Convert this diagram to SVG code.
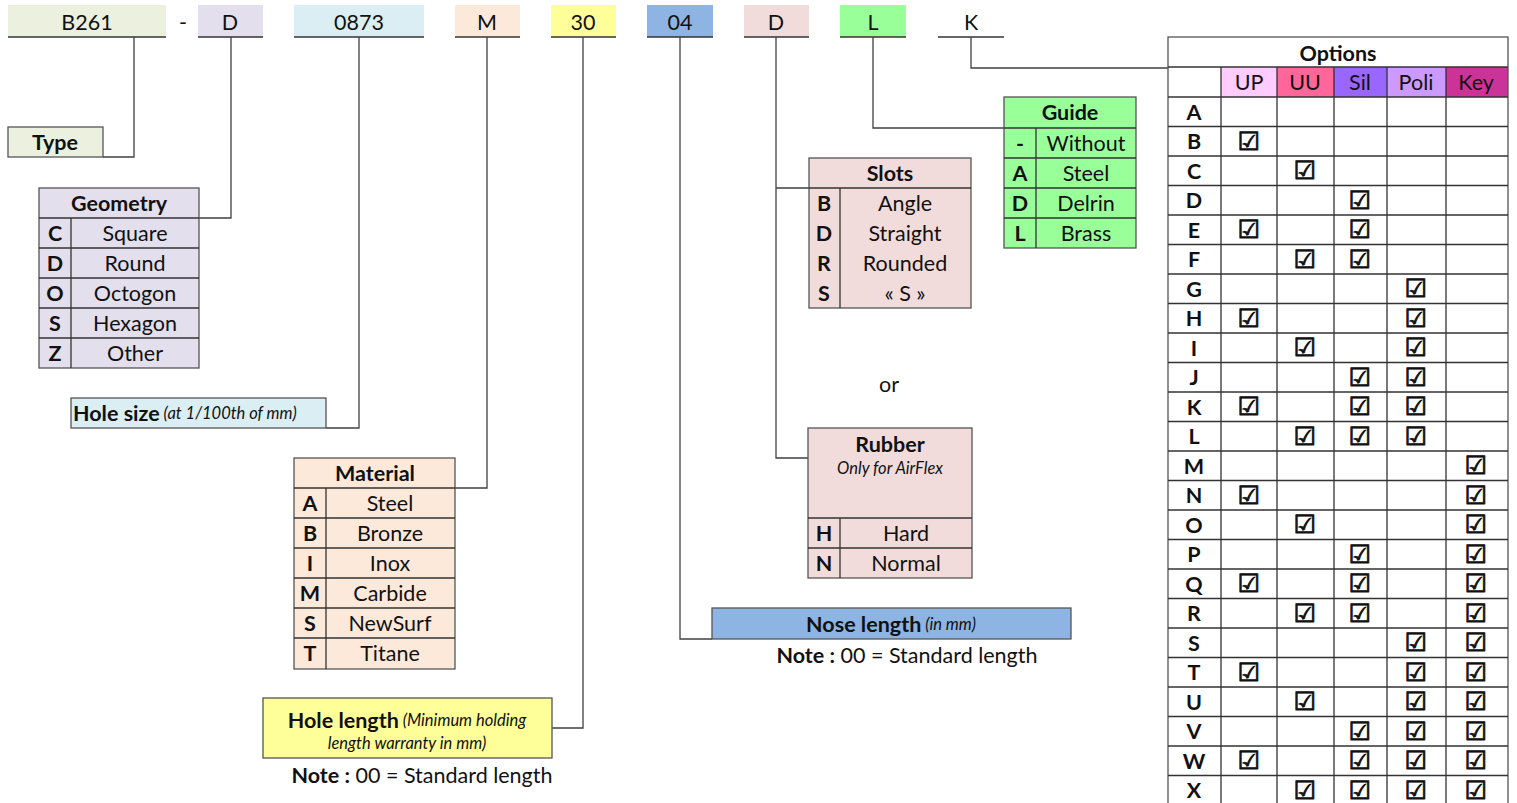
<svg xmlns="http://www.w3.org/2000/svg" width="1517" height="803" viewBox="0 0 1517 803">
<style>
text{font-family:Lato,"Liberation Sans",sans-serif;font-size:21.5px;fill:#111;text-anchor:middle;dominant-baseline:central}
.b{font-weight:bold}
.i{font-style:italic;font-size:16.5px}
.l{text-anchor:start}
.cb{font-family:"DejaVu Sans",sans-serif;font-size:25px;stroke:#111;stroke-width:0.9}
.ln{stroke:#333;stroke-width:1.3;fill:none}
.bx{stroke:#555;stroke-width:1.3}
.con path{stroke:#404040;stroke-width:1.3;fill:none}
</style>
<rect width="1517" height="803" fill="#fff"/>

<g id="hdr-b261"><rect x="8" y="5" width="158" height="32" fill="#EBF1DE"/><line class="ln" x1="8" y1="37" x2="166" y2="37"/><text x="87" y="22">B261</text></g>
<g id="hdr-dash"><text x="183" y="22">-</text></g>
<g id="hdr-d1"><rect x="198" y="5" width="65" height="32" fill="#E4DFEC"/><line class="ln" x1="198" y1="37" x2="263" y2="37"/><text x="230" y="22">D</text></g>
<g id="hdr-0873"><rect x="294" y="5" width="130" height="32" fill="#DAEEF3"/><line class="ln" x1="294" y1="37" x2="424" y2="37"/><text x="359" y="22">0873</text></g>
<g id="hdr-m"><rect x="455" y="5" width="65" height="32" fill="#FDE9D9"/><line class="ln" x1="455" y1="37" x2="520" y2="37"/><text x="487" y="22">M</text></g>
<g id="hdr-30"><rect x="551" y="5" width="65" height="32" fill="#FFFF99"/><line class="ln" x1="551" y1="37" x2="616" y2="37"/><text x="583" y="22">30</text></g>
<g id="hdr-04"><rect x="647" y="5" width="66" height="32" fill="#8DB4E2"/><line class="ln" x1="647" y1="37" x2="713" y2="37"/><text x="680" y="22">04</text></g>
<g id="hdr-d2"><rect x="744" y="5" width="65" height="32" fill="#F2DCDB"/><line class="ln" x1="744" y1="37" x2="809" y2="37"/><text x="776" y="22">D</text></g>
<g id="hdr-l"><rect x="840" y="5" width="66" height="32" fill="#99FF99"/><line class="ln" x1="840" y1="37" x2="906" y2="37"/><text x="873" y="22">L</text></g>
<g id="hdr-k"><line class="ln" x1="938" y1="37" x2="1004" y2="37"/><text x="971" y="22">K</text></g>

<g class="con" id="connectors">
<path d="M134,37 V157 H103"/>
<path d="M231,37 V218 H199"/>
<path d="M359,37 V428 H326"/>
<path d="M487,37 V488 H455"/>
<path d="M583,37 V728 H552"/>
<path d="M680,37 V639 H712"/>
<path d="M776,37 V458 H808 M776,188 H809"/>
<path d="M873,37 V128 H1004"/>
<path d="M971,37 V68 H1168"/>
</g>

<g id="type"><rect class="bx" x="8" y="127" width="95" height="30" fill="#EBF1DE"/><text class="b" x="55" y="142">Type</text></g>

<g id="geometry">
<rect class="bx" x="39" y="188" width="160" height="180" fill="#E4DFEC"/>
<path class="ln" d="M39,218H199M39,248H199M39,278H199M39,308H199M39,338H199M71,218V368"/>
<text class="b" x="119" y="203">Geometry</text>
<text class="b" x="55" y="233">C</text><text x="135" y="233">Square</text>
<text class="b" x="55" y="263">D</text><text x="135" y="263">Round</text>
<text class="b" x="55" y="293">O</text><text x="135" y="293">Octogon</text>
<text class="b" x="55" y="323">S</text><text x="135" y="323">Hexagon</text>
<text class="b" x="55" y="353">Z</text><text x="135" y="353">Other</text>
</g>

<g id="holesize"><rect class="bx" x="71" y="398" width="255" height="30" fill="#DAEEF3"/><text class="l" x="73" y="413"><tspan class="b">Hole size</tspan><tspan class="i"> (at 1/100th of mm)</tspan></text></g>

<g id="material">
<rect class="bx" x="294" y="458" width="161" height="211" fill="#FDE9D9"/>
<path class="ln" d="M294,488H455M294,518H455M294,548H455M294,578H455M294,608H455M294,638H455M326,488V669"/>
<text class="b" x="375" y="473">Material</text>
<text class="b" x="310" y="503">A</text><text x="390" y="503">Steel</text>
<text class="b" x="310" y="533">B</text><text x="390" y="533">Bronze</text>
<text class="b" x="310" y="563">I</text><text x="390" y="563">Inox</text>
<text class="b" x="310" y="593">M</text><text x="390" y="593">Carbide</text>
<text class="b" x="310" y="623">S</text><text x="390" y="623">NewSurf</text>
<text class="b" x="310" y="653">T</text><text x="390" y="653">Titane</text>
</g>

<g id="holelength">
<rect class="bx" x="263" y="698" width="289" height="60" fill="#FFFF99"/>
<text x="407" y="720"><tspan class="b">Hole length</tspan><tspan class="i"> (Minimum holding</tspan></text>
<text class="i" x="407" y="743">length warranty in mm)</text>
</g>
<g id="note1"><text x="422" y="775"><tspan class="b">Note :</tspan> 00 = Standard length</text></g>

<g id="noselength">
<rect class="bx" x="712" y="608" width="359" height="31" fill="#8DB4E2"/>
<text x="891" y="624"><tspan class="b">Nose length</tspan><tspan class="i"> (in mm)</tspan></text>
</g>
<g id="note2"><text x="907" y="655"><tspan class="b">Note :</tspan> 00 = Standard length</text></g>

<g id="slots">
<rect class="bx" x="809" y="158" width="162" height="150" fill="#F2DCDB"/>
<path class="ln" d="M809,188H971M840,188V308"/>
<text class="b" x="890" y="173">Slots</text>
<text class="b" x="824" y="203">B</text><text x="905" y="203">Angle</text>
<text class="b" x="824" y="233">D</text><text x="905" y="233">Straight</text>
<text class="b" x="824" y="263">R</text><text x="905" y="263">Rounded</text>
<text class="b" x="824" y="293">S</text><text x="905" y="293">« S »</text>
</g>

<g id="or"><text x="889" y="384">or</text></g>

<g id="rubber">
<rect class="bx" x="808" y="428" width="164" height="150" fill="#F2DCDB"/>
<path class="ln" d="M808,518H972M808,548H972M840,518V578"/>
<text class="b" x="890" y="444">Rubber</text>
<text class="i" x="890" y="468">Only for AirFlex</text>
<text class="b" x="824" y="533">H</text><text x="906" y="533">Hard</text>
<text class="b" x="824" y="563">N</text><text x="906" y="563">Normal</text>
</g>

<g id="guide">
<rect class="bx" x="1004" y="97" width="132" height="151" fill="#99FF99"/>
<path class="ln" d="M1004,128H1136M1004,158H1136M1004,188H1136M1004,218H1136M1036,128V248"/>
<text class="b" x="1070" y="112">Guide</text>
<text class="b" x="1020" y="143">-</text><text x="1086" y="143">Without</text>
<text class="b" x="1020" y="173">A</text><text x="1086" y="173">Steel</text>
<text class="b" x="1020" y="203">D</text><text x="1086" y="203">Delrin</text>
<text class="b" x="1020" y="233">L</text><text x="1086" y="233">Brass</text>
</g>

<g id="options">
<rect x="1221" y="67" width="56" height="30" fill="#FFCCFF"/>
<rect x="1277" y="67" width="57" height="30" fill="#FF6699"/>
<rect x="1334" y="67" width="53" height="30" fill="#9966FF"/>
<rect x="1387" y="67" width="59" height="30" fill="#CC99FF"/>
<rect x="1446" y="67" width="62" height="30" fill="#CC3399"/>
<rect class="bx" x="1168" y="37" width="340" height="775" fill="none"/>
<path class="ln" d="M1168,67H1508M1168,97H1508M1168,126.5H1508M1168,156H1508M1168,185.5H1508M1168,215H1508M1168,244.5H1508M1168,274H1508M1168,303.5H1508M1168,333H1508M1168,362.5H1508M1168,392H1508M1168,421.5H1508M1168,451H1508M1168,480.5H1508M1168,510H1508M1168,539.5H1508M1168,569H1508M1168,598.5H1508M1168,628H1508M1168,657.5H1508M1168,687H1508M1168,716.5H1508M1168,746H1508M1168,775.5H1508M1221,67V803M1277,67V803M1334,67V803M1387,67V803M1446,67V803"/>
<text class="b" x="1338" y="53">Options</text>
<text x="1249" y="82">UP</text><text x="1305" y="82">UU</text><text x="1360" y="82">Sil</text><text x="1416" y="82">Poli</text><text x="1476" y="82">Key</text>
<text class="b" x="1194" y="111.75">A</text>
<text class="b" x="1194" y="141.25">B</text><text class="cb" x="1249" y="141.25">☑</text>
<text class="b" x="1194" y="170.75">C</text><text class="cb" x="1305" y="170.75">☑</text>
<text class="b" x="1194" y="200.25">D</text><text class="cb" x="1360" y="200.25">☑</text>
<text class="b" x="1194" y="229.75">E</text><text class="cb" x="1249" y="229.75">☑</text><text class="cb" x="1360" y="229.75">☑</text>
<text class="b" x="1194" y="259.25">F</text><text class="cb" x="1305" y="259.25">☑</text><text class="cb" x="1360" y="259.25">☑</text>
<text class="b" x="1194" y="288.75">G</text><text class="cb" x="1416" y="288.75">☑</text>
<text class="b" x="1194" y="318.25">H</text><text class="cb" x="1249" y="318.25">☑</text><text class="cb" x="1416" y="318.25">☑</text>
<text class="b" x="1194" y="347.75">I</text><text class="cb" x="1305" y="347.75">☑</text><text class="cb" x="1416" y="347.75">☑</text>
<text class="b" x="1194" y="377.25">J</text><text class="cb" x="1360" y="377.25">☑</text><text class="cb" x="1416" y="377.25">☑</text>
<text class="b" x="1194" y="406.75">K</text><text class="cb" x="1249" y="406.75">☑</text><text class="cb" x="1360" y="406.75">☑</text><text class="cb" x="1416" y="406.75">☑</text>
<text class="b" x="1194" y="436.25">L</text><text class="cb" x="1305" y="436.25">☑</text><text class="cb" x="1360" y="436.25">☑</text><text class="cb" x="1416" y="436.25">☑</text>
<text class="b" x="1194" y="465.75">M</text><text class="cb" x="1476" y="465.75">☑</text>
<text class="b" x="1194" y="495.25">N</text><text class="cb" x="1249" y="495.25">☑</text><text class="cb" x="1476" y="495.25">☑</text>
<text class="b" x="1194" y="524.75">O</text><text class="cb" x="1305" y="524.75">☑</text><text class="cb" x="1476" y="524.75">☑</text>
<text class="b" x="1194" y="554.25">P</text><text class="cb" x="1360" y="554.25">☑</text><text class="cb" x="1476" y="554.25">☑</text>
<text class="b" x="1194" y="583.75">Q</text><text class="cb" x="1249" y="583.75">☑</text><text class="cb" x="1360" y="583.75">☑</text><text class="cb" x="1476" y="583.75">☑</text>
<text class="b" x="1194" y="613.25">R</text><text class="cb" x="1305" y="613.25">☑</text><text class="cb" x="1360" y="613.25">☑</text><text class="cb" x="1476" y="613.25">☑</text>
<text class="b" x="1194" y="642.75">S</text><text class="cb" x="1416" y="642.75">☑</text><text class="cb" x="1476" y="642.75">☑</text>
<text class="b" x="1194" y="672.25">T</text><text class="cb" x="1249" y="672.25">☑</text><text class="cb" x="1416" y="672.25">☑</text><text class="cb" x="1476" y="672.25">☑</text>
<text class="b" x="1194" y="701.75">U</text><text class="cb" x="1305" y="701.75">☑</text><text class="cb" x="1416" y="701.75">☑</text><text class="cb" x="1476" y="701.75">☑</text>
<text class="b" x="1194" y="731.25">V</text><text class="cb" x="1360" y="731.25">☑</text><text class="cb" x="1416" y="731.25">☑</text><text class="cb" x="1476" y="731.25">☑</text>
<text class="b" x="1194" y="760.75">W</text><text class="cb" x="1249" y="760.75">☑</text><text class="cb" x="1360" y="760.75">☑</text><text class="cb" x="1416" y="760.75">☑</text><text class="cb" x="1476" y="760.75">☑</text>
<text class="b" x="1194" y="790.25">X</text><text class="cb" x="1305" y="790.25">☑</text><text class="cb" x="1360" y="790.25">☑</text><text class="cb" x="1416" y="790.25">☑</text><text class="cb" x="1476" y="790.25">☑</text>
</g>
</svg>
